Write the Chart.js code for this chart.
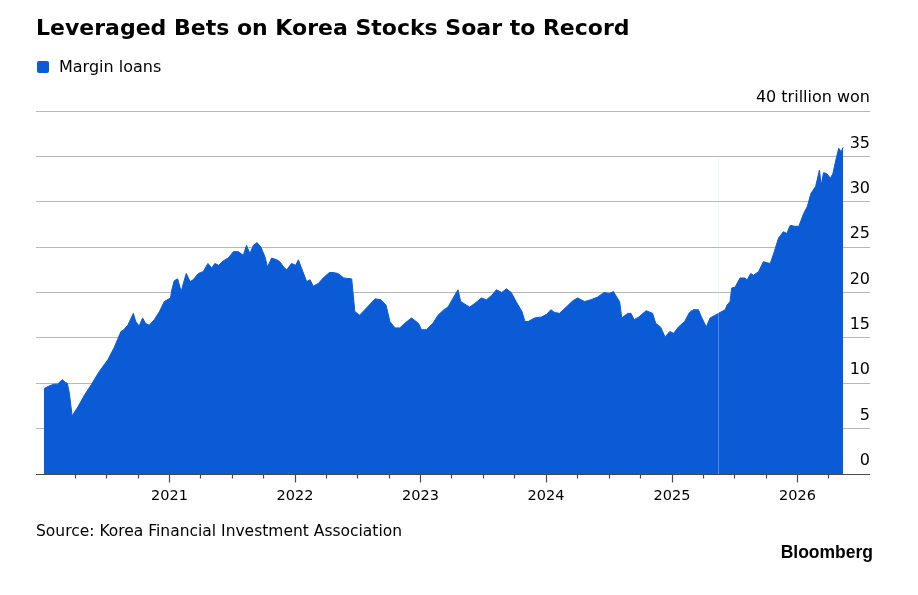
<!DOCTYPE html>
<html><head><meta charset="utf-8">
<script src="https://cdn.jsdelivr.net/npm/chart.js@4"></script>
<style>
html,body{margin:0;padding:0;background:#fff;}
#wrap{position:relative;width:918px;height:595px;overflow:hidden;font-family:"DejaVu Sans",sans-serif;color:#000;}
canvas{position:absolute;left:0;top:0;}
.t{position:absolute;white-space:nowrap;}
</style></head><body>
<div id="wrap">
<canvas id="c" width="918" height="595"></canvas>
<div class="t" style="left:36px;top:15px;font-size:22px;line-height:26px;font-weight:bold;">Leveraged Bets on Korea Stocks Soar to Record</div>
<div class="t" style="left:37px;top:61px;width:12px;height:12px;background:#0a5bd5;border-radius:2px;"></div>
<div class="t" style="left:59px;top:57px;font-size:16px;line-height:20px;">Margin loans</div>
<div class="t" style="left:36px;top:521px;font-size:15.5px;line-height:20px;">Source: Korea Financial Investment Association</div>
<div class="t" style="right:45px;top:542px;font-family:'Liberation Sans',Arial,sans-serif;font-weight:bold;font-size:17.5px;line-height:20px;">Bloomberg</div>
</div>
<script>
// ---- data (trillion won) ----
const dates = [
'2020-01-02','2020-01-17','2020-01-31','2020-02-11','2020-02-24','2020-03-04','2020-03-10','2020-03-16','2020-03-24','2020-04-10',
'2020-04-29','2020-05-18','2020-06-11','2020-07-06','2020-07-24','2020-08-13','2020-08-21','2020-09-02','2020-09-18','2020-09-25',
'2020-10-05','2020-10-15','2020-10-23','2020-11-03','2020-11-18','2020-12-03','2020-12-17','2021-01-04','2021-01-08','2021-01-15',
'2021-01-25','2021-02-04','2021-02-15','2021-02-19','2021-03-02','2021-03-11','2021-03-26','2021-04-09','2021-04-23','2021-05-04',
'2021-05-13','2021-05-24','2021-06-07','2021-06-21','2021-07-06','2021-07-20','2021-08-04','2021-08-13','2021-08-23','2021-09-02',
'2021-09-13','2021-09-24','2021-10-06','2021-10-13','2021-10-25','2021-11-09','2021-11-18','2021-11-29','2021-12-08','2021-12-22',
'2022-01-03','2022-01-11','2022-01-24','2022-02-04','2022-02-14','2022-02-23','2022-03-10','2022-03-24','2022-04-11','2022-04-22',
'2022-05-06','2022-05-23','2022-06-15','2022-06-24','2022-07-08','2022-07-28','2022-08-22','2022-09-08','2022-09-23','2022-10-04',
'2022-10-19','2022-11-02','2022-11-16','2022-12-06','2022-12-26','2023-01-04','2023-01-18','2023-02-06','2023-02-21','2023-03-10',
'2023-03-22','2023-04-06','2023-04-20','2023-04-28','2023-05-15','2023-05-24','2023-06-08','2023-06-27','2023-07-12','2023-07-27',
'2023-08-10','2023-08-25','2023-09-08','2023-09-22','2023-10-06','2023-10-23','2023-11-01','2023-11-10','2023-11-29','2023-12-19',
'2024-01-03','2024-01-15','2024-01-26','2024-02-09','2024-02-29','2024-03-19','2024-04-02','2024-04-22','2024-05-10','2024-05-30',
'2024-06-18','2024-07-03','2024-07-15','2024-07-26','2024-08-02','2024-08-08','2024-08-26','2024-09-04','2024-09-13','2024-09-27',
'2024-10-18','2024-11-06','2024-11-15','2024-11-29','2024-12-12','2024-12-26','2025-01-06','2025-01-20','2025-02-07','2025-02-21',
'2025-03-04','2025-03-19','2025-03-28','2025-04-11','2025-04-22','2025-05-07','2025-05-21','2025-06-05','2025-06-10','2025-06-19',
'2025-06-24','2025-07-04','2025-07-18','2025-08-01','2025-08-08','2025-08-18','2025-08-26','2025-09-10','2025-09-24','2025-10-02',
'2025-10-14','2025-10-24','2025-11-07','2025-11-21','2025-12-01','2025-12-11','2025-12-24','2026-01-05','2026-01-19','2026-01-30',
'2026-02-09','2026-02-23','2026-03-06','2026-03-11','2026-03-18','2026-03-27','2026-04-07','2026-04-14','2026-04-24','2026-05-01',
'2026-05-08','2026-05-14'
];
const marginLoans = [
9.4,9.7,9.9,9.9,10.4,10.1,10.0,8.9,6.4,7.4,
8.7,9.8,11.3,12.6,13.9,15.7,15.9,16.4,17.7,16.8,
16.3,17.2,16.6,16.4,17.0,17.9,19.0,19.4,20.3,21.3,
21.5,20.1,21.6,22.1,21.2,21.4,22.1,22.3,23.2,22.7,
23.2,23.0,23.5,23.8,24.5,24.5,24.1,25.2,24.3,25.2,
25.5,25.0,23.9,22.8,23.8,23.6,23.4,22.8,22.5,23.2,
23.0,23.6,22.3,21.2,21.4,20.7,21.0,21.6,22.2,22.2,
22.1,21.6,21.5,17.9,17.5,18.3,19.3,19.2,18.6,16.8,
16.1,16.1,16.6,17.2,16.6,15.9,15.9,16.6,17.5,18.1,
18.4,19.4,20.3,19.0,18.6,18.4,18.8,19.4,19.2,19.7,
20.3,20.0,20.4,20.0,19.0,17.9,16.8,16.8,17.2,17.3,
17.6,18.1,17.8,17.7,18.4,19.1,19.4,19.0,19.2,19.5,
20.0,19.9,20.1,19.4,19.0,17.2,17.7,17.7,17.0,17.3,
18.0,17.7,16.6,16.2,15.1,15.7,15.5,16.2,16.8,17.8,
18.1,18.1,17.3,16.2,17.2,17.5,17.8,18.1,18.6,19.0,
20.5,20.6,21.6,21.6,21.4,22.1,21.9,22.3,23.4,23.3,
23.2,24.3,26.0,26.7,26.5,27.4,27.3,27.3,28.7,29.5,
30.9,31.7,33.5,31.8,33.2,33.1,32.6,33.1,34.8,35.9,
35.5,36.0
];
const yTicks = [0,5,10,15,20,25,30,35,40];
const yUnit = 'trillion won';
const xRange = ['2019-12-10','2026-07-31'];
const tickStart = '2020-04-01';
const tickEnd = '2026-04-01';
const markerDate = '2025-05-14';
const markerTop = 35;

const BLUE = '#0a5bd5';
const toMs = s => Date.parse(s + 'T00:00:00Z');
const points = dates.map((d,i) => ({x: toMs(d), y: marginLoans[i]}));

// quarter tick values
const quarterTicks = [];
{
  const s = new Date(toMs(tickStart)), e = toMs(tickEnd);
  let y = s.getUTCFullYear(), m = s.getUTCMonth();
  while (Date.UTC(y,m,1) <= e) { quarterTicks.push(Date.UTC(y,m,1)); m += 3; if (m > 11) { m -= 12; y++; } }
}

const axisMarks = {
  id: 'axisMarks',
  afterDatasetsDraw(chart) {
    const {ctx, chartArea: a, scales: {x, y}} = chart;
    ctx.save();
    // faint vertical line
    const mx = Math.round(x.getPixelForValue(toMs(markerDate))) + 0.5;
    ctx.strokeStyle = 'rgba(210,225,245,0.35)';
    ctx.lineWidth = 1;
    ctx.beginPath(); ctx.moveTo(mx, y.getPixelForValue(markerTop)); ctx.lineTo(mx, a.bottom); ctx.stroke();
    // axis line
    ctx.strokeStyle = '#4a4a4a';
    ctx.lineWidth = 1.2;
    const by = a.bottom + 0.5;
    ctx.beginPath(); ctx.moveTo(a.left, by); ctx.lineTo(a.right, by); ctx.stroke();
    x.ticks.forEach(t => {
      const px = Math.round(x.getPixelForValue(t.value)) + 0.5;
      const isYear = new Date(t.value).getUTCMonth() === 0;
      ctx.beginPath(); ctx.moveTo(px, by); ctx.lineTo(px, by + (isYear ? 8 : 4)); ctx.stroke();
    });
    ctx.restore();
  }
};

new Chart(document.getElementById('c'), {
  type: 'line',
  data: { datasets: [{
    label: 'Margin loans',
    data: points,
    fill: 'origin',
    backgroundColor: BLUE,
    borderColor: BLUE,
    borderWidth: 1,
    pointRadius: 0,
    tension: 0
  }]},
  options: {
    responsive: false,
    animation: false,
    devicePixelRatio: 1,
    layout: { padding: { left: 36, right: 48, top: 111, bottom: 0 } },
    plugins: { legend: { display: false }, tooltip: { enabled: false } },
    scales: {
      x: {
        type: 'linear',
        min: toMs(xRange[0]),
        max: toMs(xRange[1]),
        afterBuildTicks: s => { s.ticks = quarterTicks.map(v => ({value: v})); },
        afterFit: s => { s.height = 121; },
        grid: { display: false, drawTicks: false },
        border: { display: false },
        ticks: {
          autoSkip: false, maxRotation: 0, padding: 14,
          font: { family: 'DejaVu Sans', size: 14.5 }, color: '#000',
          callback: v => { const d = new Date(v); return d.getUTCMonth() === 0 ? String(d.getUTCFullYear()) : ''; }
        }
      },
      y: {
        position: 'right',
        min: 0, max: 40,
        afterBuildTicks: s => { s.ticks = yTicks.map(v => ({value: v})); },
        afterFit: s => { s.width = 0; },
        grid: {
          drawTicks: false,
          color: c => c.tick && c.tick.value === 0 ? 'rgba(0,0,0,0)' : '#b8b8b8',
          lineWidth: 1
        },
        border: { display: false },
        ticks: {
          mirror: true, padding: 0, labelOffset: -13,
          font: { family: 'DejaVu Sans', size: 16 }, color: '#000',
          callback: v => v === 40 ? '40 ' + yUnit : String(v)
        }
      }
    }
  },
  plugins: [axisMarks]
});
</script>
</body></html>
